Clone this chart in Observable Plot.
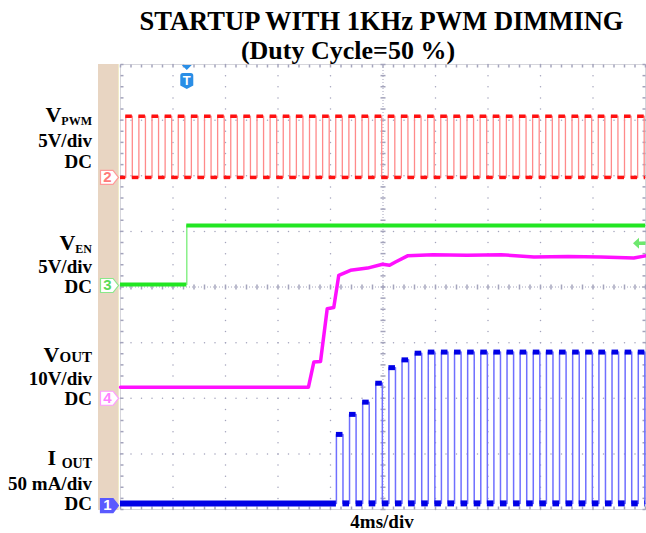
<!DOCTYPE html>
<html><head><meta charset="utf-8">
<script src="https://cdn.jsdelivr.net/npm/d3@7"></script>
<script src="https://cdn.jsdelivr.net/npm/@observablehq/plot@0.6"></script>
<style>
body{margin:0;background:#fff;}
#wrap{position:relative;width:646px;height:533px;overflow:hidden;background:#fff;}
#strip{position:absolute;left:98px;top:64px;width:20px;height:446px;background:#e8d5c2;border-right:1px solid #f1ebc8;}
#wrap > svg{position:absolute;left:0;top:0;}
#ann{pointer-events:none;}
#ann text{font-family:"Liberation Serif","Times New Roman",serif;font-weight:bold;fill:#000;}
</style></head><body>
<div id="wrap"><div id="strip"></div></div>
<script>
// ---------- data ----------
const timeDomainMs = [0, 40];          // 10 div x 4 ms/div
const divDomain = [-4, 4];             // 8 vertical divisions
const majorXms = [0, 4, 8, 12, 16, 20, 24, 28, 32, 36, 40];
const majorYdiv = [-4, -3, -2, -1, 0, 1, 2, 3, 4];

// channel 2: V_PWM (5 V/div), 1 kHz, 50 % duty
const pwmRiseMs = [0.4,1.4,2.4,3.4,4.4,5.4,6.4,7.4,8.4,9.4,10.4,11.4,12.4,13.4,14.4,15.4,16.4,17.4,18.4,19.4,
                   20.4,21.4,22.4,23.4,24.4,25.4,26.4,27.4,28.4,29.4,30.4,31.4,32.4,33.4,34.4,35.4,36.4,37.4,38.4,39.4];
const pwmHighMs = 0.5;
const pwmLowV = 0.0;
const pwmHighV = 5.5;

// channel 3: V_EN (5 V/div)
const enStepMs = 5.05;
const enLowV = 0.1;
const enHighV = 5.4;
const triggerMs = 5.05;
const triggerLevelV = 3.8;

// channel 4: V_OUT (10 V/div)
const voutTimeMs = [0, 14.32, 14.73, 15.24, 15.75, 16.25, 16.63, 17.52, 18.82, 19.96, 20.5, 20.95, 21.87, 23.8, 26.4, 29.0, 31.5, 34.1, 36.6, 39.1, 40];
const voutV      = [2.0, 2.0, 6.5, 6.6, 16.1, 16.3, 22.1, 23.0, 23.4, 24.1, 23.9, 24.5, 25.6, 25.8, 25.7, 25.8, 25.4, 25.5, 25.4, 25.2, 25.6];

// channel 1: I_OUT (50 mA/div)
const ioutBasemA = 2;
const ioutRiseMs = [16.45,17.45,18.45,19.45,20.45,21.45,22.45,23.45,24.45,25.45,26.45,27.45,28.45,29.45,30.45,31.45,
                    32.45,33.45,34.45,35.45,36.45,37.45,38.45,39.45];
const ioutPeakmA = [64, 82, 93, 110, 124, 131, 137, 138, 138, 138, 138, 138, 138, 138, 138, 138,
                    138, 138, 138, 138, 138, 138, 138, 138];
const ioutHighMs = 0.5;

// ---------- scope channel setup ----------
const channels = {
  1: {perDiv: 50, offset: -3.93, color: "#0000e6", edge: "#6f6fff", mark: {fill: "#5a5aff", stroke: "#5a5aff", text: "#ffffff"}},
  2: {perDiv: 5,  offset: 1.97,  color: "#ff1010", edge: "#ff8a8a", mark: {fill: "#ffffff", stroke: "#ff9a9a", text: "#ff7a7a"}},
  3: {perDiv: 5,  offset: 0.027, color: "#22e622", edge: "#8af08a", mark: {fill: "#ffffff", stroke: "#8ae88a", text: "#5ada5a"}},
  4: {perDiv: 10, offset: -2.0,  color: "#ff10ff", edge: "#ff90ff", mark: {fill: "#ffffff", stroke: "#ff9aff", text: "#ff80ff"}}
};
const toDiv = (ch, v) => channels[ch].offset + v / channels[ch].perDiv;

// square wave builder from edge lists
function pulses(ch, rises, widths, highs, low, tEnd) {
  const pts = [{t: timeDomainMs[0], y: toDiv(ch, low)}];
  const flats = [];
  let prev = timeDomainMs[0];
  rises.forEach((r, i) => {
    const w = Array.isArray(widths) ? widths[i] : widths;
    const h = Array.isArray(highs) ? highs[i] : highs;
    const f = Math.min(r + w, tEnd);
    pts.push({t: r, y: toDiv(ch, low)}, {t: r, y: toDiv(ch, h)}, {t: f, y: toDiv(ch, h)}, {t: f, y: toDiv(ch, low)});
    flats.push({x1: prev, x2: r, y: toDiv(ch, low), low: true}, {x1: r, x2: f, y: toDiv(ch, h), low: false});
    prev = f;
  });
  pts.push({t: tEnd, y: toDiv(ch, low)});
  flats.push({x1: prev, x2: tEnd, y: toDiv(ch, low), low: true});
  return {pts, flats};
}

const pwm = pulses(2, pwmRiseMs, pwmHighMs, pwmHighV, pwmLowV, timeDomainMs[1]);
const iout = pulses(1, ioutRiseMs, ioutHighMs, ioutPeakmA, ioutBasemA, timeDomainMs[1]);
const en = {
  pts: [{t: 0, y: toDiv(3, enLowV)}, {t: enStepMs, y: toDiv(3, enLowV)}, {t: enStepMs, y: toDiv(3, enHighV)}, {t: timeDomainMs[1], y: toDiv(3, enHighV)}],
  flats: [{x1: 0, x2: enStepMs, y: toDiv(3, enLowV)}, {x1: enStepMs, x2: timeDomainMs[1], y: toDiv(3, enHighV)}]
};
const vout = voutTimeMs.map((t, i) => ({t, y: toDiv(4, voutV[i])}));

// ---------- graticule ----------
const minorX = d3.range(0, 40.001, 0.8).map(v => +v.toFixed(2));
const minorY = d3.range(-4, 4.001, 0.2).map(v => +v.toFixed(2));
const gridDots = [];
majorXms.slice(1, -1).filter(x => x !== 20).forEach(x => minorY.forEach(y => gridDots.push({x, y})));
majorYdiv.slice(1, -1).filter(y => y !== 0).forEach(y => minorX.forEach(x => gridDots.push({x, y})));

const hTick = {draw(ctx) { ctx.moveTo(-2.5, 0); ctx.lineTo(2.5, 0); }};
const vTick = {draw(ctx) { ctx.moveTo(0, -2.5); ctx.lineTo(0, 2.5); }};
const hTickIn = {draw(ctx) { ctx.moveTo(0, 0); ctx.lineTo(3, 0); }};
const hTickInR = {draw(ctx) { ctx.moveTo(0, 0); ctx.lineTo(-3, 0); }};
const vTickDown = {draw(ctx) { ctx.moveTo(0, 0); ctx.lineTo(0, 3); }};
const vTickUp = {draw(ctx) { ctx.moveTo(0, 0); ctx.lineTo(0, -3); }};

const pentagon = {draw(ctx) { ctx.moveTo(-9, -7); ctx.lineTo(3.5, -7); ctx.lineTo(9, 0); ctx.lineTo(3.5, 7); ctx.lineTo(-9, 7); ctx.closePath(); }};
const trigShape = {draw(ctx) {
  ctx.moveTo(-5, 0.5); ctx.lineTo(5, 0.5); ctx.lineTo(0, 5.5); ctx.closePath();
  ctx.moveTo(-6.5, 11); ctx.quadraticCurveTo(-6.5, 8.5, -4, 8.5); ctx.lineTo(4, 8.5);
  ctx.quadraticCurveTo(6.5, 8.5, 6.5, 11); ctx.lineTo(6.5, 21); ctx.lineTo(0, 24.5); ctx.lineTo(-6.5, 21); ctx.closePath();
}};
const leftArrow = {draw(ctx) { ctx.moveTo(-6, 0); ctx.lineTo(0, -5.5); ctx.lineTo(0, -1.8); ctx.lineTo(6.5, -1.8); ctx.lineTo(6.5, 1.8); ctx.lineTo(0, 1.8); ctx.lineTo(0, 5.5); ctx.closePath(); }};

const markerData = [1, 2, 3, 4].map(ch => ({ch, y: channels[ch].offset, ...channels[ch].mark}));
const gridCol = "#a4a4bc";

const chart = Plot.plot({
  width: 646, height: 533,
  marginLeft: 120, marginRight: 1, marginTop: 64, marginBottom: 24,
  x: {domain: timeDomainMs, axis: null},
  y: {domain: divDomain, axis: null},
  style: {background: "transparent", overflow: "visible"},
  marks: [
    Plot.frame({fill: "#ffffff", stroke: "#d6d6dc"}),
    Plot.dot(gridDots, {x: "x", y: "y", r: 0.75, fill: gridCol, stroke: null}),
    Plot.ruleX([20], {stroke: gridCol, strokeDasharray: "1,2"}),
    Plot.ruleY([0], {stroke: gridCol, strokeDasharray: "1,2"}),
    Plot.dot(minorY, {x: 20, y: d => d, symbol: hTick, stroke: gridCol, fill: "none"}),
    Plot.dot(minorX, {x: d => d, y: 0, symbol: vTick, stroke: gridCol, fill: "none"}),
    Plot.dot(minorY, {x: 0, y: d => d, symbol: hTickIn, stroke: gridCol, fill: "none"}),
    Plot.dot(minorY, {x: 40, y: d => d, symbol: hTickInR, stroke: gridCol, fill: "none"}),
    Plot.dot(minorX, {x: d => d, y: 4, symbol: vTickDown, stroke: gridCol, fill: "none"}),
    Plot.dot(minorX, {x: d => d, y: -4, symbol: vTickUp, stroke: gridCol, fill: "none"}),

    // V_EN
    Plot.line(en.pts, {x: "t", y: "y", stroke: channels[3].edge, strokeWidth: 1.5}),
    Plot.ruleY(en.flats, {x1: "x1", x2: "x2", y: "y", stroke: channels[3].color, strokeWidth: 4}),
    // V_PWM
    Plot.line(pwm.pts, {x: "t", y: "y", stroke: channels[2].edge, strokeWidth: 1.3}),
    Plot.ruleY(pwm.flats, {x1: "x1", x2: "x2", y: "y", stroke: channels[2].color, strokeWidth: 3.5}),
    // V_OUT
    Plot.line(vout, {x: "t", y: "y", stroke: channels[4].color, strokeWidth: 3.5, strokeLinejoin: "round"}),
    // I_OUT
    Plot.line(iout.pts, {x: "t", y: "y", stroke: channels[1].edge, strokeWidth: 1.5}),
    Plot.ruleY(iout.flats, {x1: "x1", x2: "x2", y: "y", stroke: channels[1].color, strokeWidth: d => d.low ? 6 : 5}),

    // channel ground markers on the left strip
    Plot.dot(markerData, {x: 0, y: "y", dx: -11, symbol: pentagon, fill: "fill", stroke: "stroke", strokeWidth: 1.2}),
    Plot.text(markerData, {x: 0, y: "y", dx: -13, text: d => String(d.ch), fill: "text", fontSize: 15, fontWeight: "bold", fontFamily: "Liberation Sans, Arial, sans-serif"}),

    // trigger position and level
    Plot.dot([triggerMs], {x: d => d, y: 4, symbol: trigShape, fill: "#2a8ee6", stroke: null}),
    Plot.text([triggerMs], {x: d => d, y: 4, dy: 16, text: () => "T", fill: "#ffffff", fontSize: 13, fontWeight: "bold", fontFamily: "Liberation Sans, Arial, sans-serif"}),
    Plot.dot([toDiv(3, triggerLevelV)], {x: 40, y: d => d, dx: -6.5, symbol: leftArrow, fill: "#6ee86e", stroke: null})
  ]
});
document.getElementById("wrap").appendChild(chart);

// ---------- titles and channel labels ----------
const ann = `
<svg id="ann" width="646" height="533" xmlns="http://www.w3.org/2000/svg">
  <text x="381.5" y="30" text-anchor="middle" font-size="26.5">STARTUP WITH 1KHz PWM DIMMING</text>
  <text x="348" y="59" text-anchor="middle" font-size="26">(Duty Cycle=50 %)</text>

  <text x="92" y="122" text-anchor="end"><tspan font-size="22">V</tspan><tspan font-size="12" dy="3">PWM</tspan></text>
  <text x="92" y="147" text-anchor="end" font-size="19">5V/div</text>
  <text x="92" y="168" text-anchor="end" font-size="19">DC</text>

  <text x="92" y="250" text-anchor="end"><tspan font-size="22">V</tspan><tspan font-size="12" dy="3">EN</tspan></text>
  <text x="92" y="273" text-anchor="end" font-size="19">5V/div</text>
  <text x="92" y="293" text-anchor="end" font-size="19">DC</text>

  <text x="92" y="362" text-anchor="end"><tspan font-size="22">V</tspan><tspan font-size="15">OUT</tspan></text>
  <text x="92" y="385" text-anchor="end" font-size="19">10V/div</text>
  <text x="92" y="405" text-anchor="end" font-size="19">DC</text>

  <text x="92" y="465" text-anchor="end"><tspan font-size="22">I </tspan><tspan font-size="14" dy="3">OUT</tspan></text>
  <text x="92" y="490" text-anchor="end" font-size="19">50 mA/div</text>
  <text x="92" y="510" text-anchor="end" font-size="19">DC</text>

  <text x="382" y="528" text-anchor="middle" font-size="19">4ms/div</text>
</svg>`;
document.getElementById("wrap").insertAdjacentHTML("beforeend", ann);
</script>
</body></html>
